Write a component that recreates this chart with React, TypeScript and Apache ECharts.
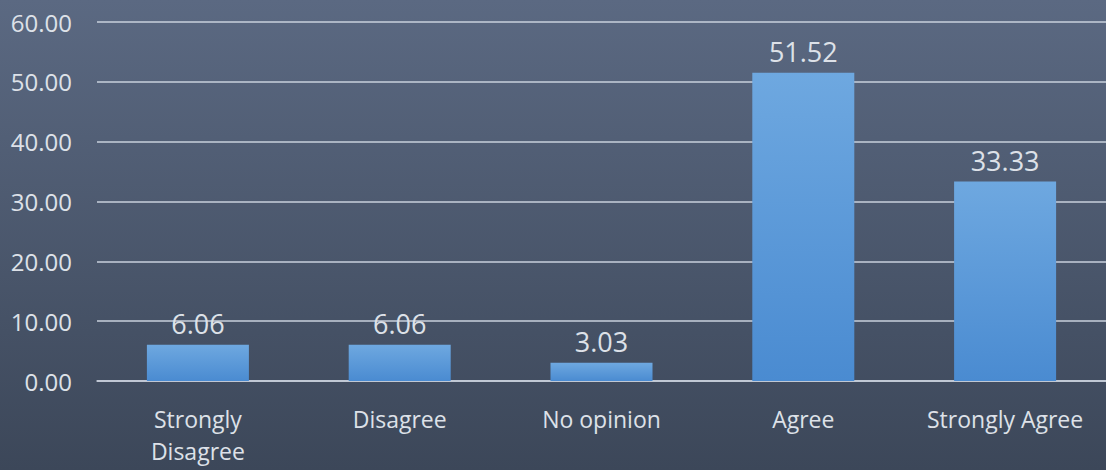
import React, { useEffect, useRef } from "react";
import * as echarts from "echarts";

const categories = ["Strongly\nDisagree", "Disagree", "No opinion", "Agree", "Strongly Agree"];
const values = [6.06, 6.06, 3.03, 51.52, 33.33];
const yTicks = [0, 10, 20, 30, 40, 50, 60];

export default function App() {
  const ref = useRef<HTMLDivElement>(null);
  useEffect(() => {
    if (!ref.current) return;
    const chart = echarts.init(ref.current, undefined, { renderer: "svg" });
    const textColor = "#dde1e8";
    const font = "'Open Sans', 'Noto Sans', sans-serif";
    chart.setOption({
      animation: false,
      backgroundColor: new echarts.graphic.LinearGradient(0, 0, 0, 1, [
        { offset: 0, color: "#5b6982" },
        { offset: 1, color: "#3c4759" },
      ]),
      grid: { left: 97, top: 22, bottom: 89, width: 1015 },
      xAxis: {
        type: "category",
        data: categories,
        axisLine: { lineStyle: { color: "#c9d0dc", width: 1.5 } },
        axisTick: { show: false },
        axisLabel: {
          interval: 0,
          hideOverlap: false,
          color: textColor,
          fontSize: 23,
          fontFamily: font,
          margin: 22,
          lineHeight: 32,
        },
      },
      yAxis: {
        type: "value",
        min: yTicks[0],
        max: yTicks[yTicks.length - 1],
        interval: 10,
        axisLine: { show: false },
        axisTick: { show: false },
        splitLine: { lineStyle: { color: "#c9d0dc", width: 1.5 } },
        axisLabel: {
          color: textColor,
          fontSize: 24,
          fontFamily: font,
          margin: 25,
          formatter: (v: number) => v.toFixed(2),
        },
      },
      series: [
        {
          type: "bar",
          data: values,
          barWidth: 102,
          itemStyle: {
            color: new echarts.graphic.LinearGradient(0, 0, 0, 1, [
              { offset: 0, color: "#6ea8e0" },
              { offset: 1, color: "#4a8bd1" },
            ]),
          },
          label: {
            show: true,
            position: "top",
            distance: 8,
            color: textColor,
            fontSize: 27,
            fontFamily: font,
            formatter: (p: any) => p.value.toFixed(2),
          },
        },
      ],
    });
    return () => chart.dispose();
  }, []);
  return (
    <div
      ref={ref}
      style={{ position: "absolute", left: 0, top: 0, width: 1106, height: 470 }}
    />
  );
}
